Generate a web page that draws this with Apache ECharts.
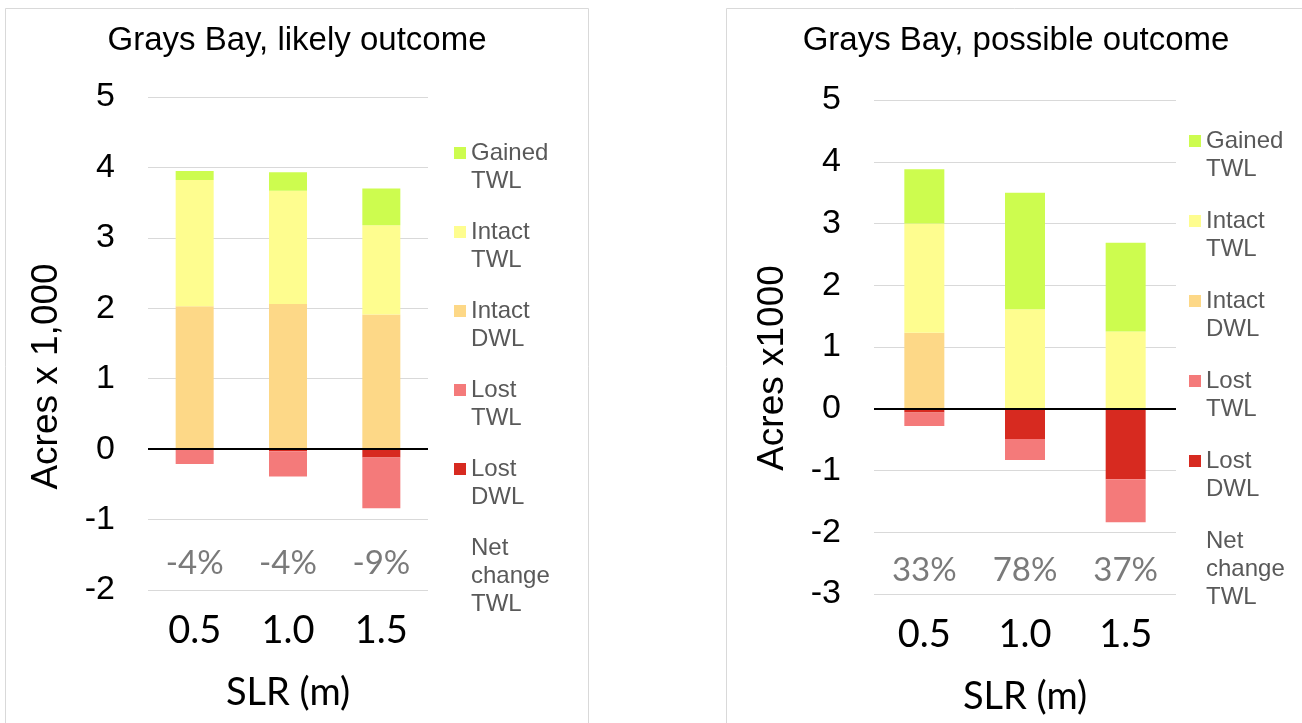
<!DOCTYPE html>
<html>
<head>
<meta charset="utf-8">
<script src="https://cdn.jsdelivr.net/npm/echarts@6/dist/echarts.min.js"></script>
<style>
html,body{margin:0;padding:0;background:#ffffff;}
#c{width:1302px;height:723px;}
</style>
</head>
<body>
<div id="c"></div>
<script>
// ---------- data ----------
const categories = ['0.5', '1.0', '1.5'];
const legendNames = ['Gained TWL', 'Intact TWL', 'Intact DWL', 'Lost TWL', 'Lost DWL', 'Net change TWL'];

// Grays Bay, likely outcome (acres x 1,000)
const likelyIntactDWL = [2.03, 2.06, 1.91];
const likelyIntactTWL = [1.79, 1.61, 1.27];
const likelyGainedTWL = [0.13, 0.26, 0.52];
const likelyLostDWL   = [0.00, -0.03, -0.12];
const likelyLostTWL   = [-0.21, -0.36, -0.72];
const likelyNetChange = [-4, -4, -9];
const likelyTicks = [-2, -1, 0, 1, 2, 3, 4, 5];

// Grays Bay, possible outcome (acres x 1000)
const possibleIntactDWL = [1.23, 0.00, 0.00];
const possibleIntactTWL = [1.77, 1.61, 1.25];
const possibleGainedTWL = [0.88, 1.89, 1.44];
const possibleLostDWL   = [-0.06, -0.49, -1.14];
const possibleLostTWL   = [-0.22, -0.34, -0.70];
const possibleNetChange = [33, 78, 37];
const possibleTicks = [-3, -2, -1, 0, 1, 2, 3, 4, 5];

// ---------- styles ----------
const COL = {
  'Gained TWL': '#cdfc4f',
  'Intact TWL': '#fefd8f',
  'Intact DWL': '#fdd887',
  'Lost TWL':   '#f47a7a',
  'Lost DWL':   '#d72a20'
};
const ARIAL = '"Liberation Sans", Arial, sans-serif';
const CALI = 'Lato, "Open Sans", sans-serif';

function bars(idx, d, barWidth) {
  const mk = (name, data, extra) => Object.assign({
    type: 'bar', name: name, data: data, stack: 'stack' + idx,
    xAxisIndex: idx, yAxisIndex: idx, barWidth: barWidth,
    itemStyle: { color: COL[name] },
    emphasis: { disabled: true }
  }, extra || {});
  return [
    mk('Intact DWL', d.intactDWL, {
      markLine: {
        silent: true, symbol: 'none', animation: false,
        label: { show: false },
        lineStyle: { color: '#000000', width: 2, type: 'solid' },
        data: [{ yAxis: 0 }]
      }
    }),
    mk('Intact TWL', d.intactTWL),
    mk('Gained TWL', d.gainedTWL),
    mk('Lost DWL', d.lostDWL),
    mk('Lost TWL', d.lostTWL)
  ];
}

function netSeries(idx, net, yPos) {
  return {
    type: 'scatter', name: 'Net change TWL',
    xAxisIndex: idx, yAxisIndex: idx,
    symbolSize: 1, itemStyle: { color: 'rgba(0,0,0,0)' },
    data: net.map((v, i) => [categories[i], yPos]),
    label: {
      show: true, position: 'inside',
      formatter: p => net[p.dataIndex] + '%',
      fontFamily: CALI, fontSize: 33, color: '#595959'
    },
    emphasis: { disabled: true }
  };
}

function yAx(idx, ticks, name, pad) {
  return {
    type: 'value', gridIndex: idx,
    min: ticks[0], max: ticks[ticks.length - 1], interval: 1,
    name: name, nameLocation: 'middle', nameGap: 83,
    nameTextStyle: { fontFamily: ARIAL, fontSize: 37, color: '#000', padding: [0, pad, 0, 0] },
    axisLine: { show: false }, axisTick: { show: false },
    axisLabel: { fontFamily: ARIAL, fontSize: 34, color: '#000', margin: 33 },
    splitLine: { lineStyle: { color: '#d9d9d9', width: 1 } }
  };
}

function xAx(idx) {
  return {
    type: 'category', gridIndex: idx, data: categories,
    name: 'SLR (m)', nameLocation: 'middle', nameGap: 84,
    nameTextStyle: { fontFamily: CALI, fontSize: 38, color: '#000' },
    axisLine: { show: false }, axisTick: { show: false },
    axisLabel: { fontFamily: CALI, fontSize: 38, color: '#000', margin: 22 }
  };
}

function legend(left, top, gap) {
  return {
    orient: 'vertical', left: left, top: top, padding: 0,
    itemGap: gap, itemWidth: 12, itemHeight: 12,
    selectedMode: false,
    data: legendNames.map(n => n === 'Net change TWL'
      ? { name: n, icon: 'none' }
      : { name: n, icon: 'rect' }),
    // leading blank line puts the first word level with the colour square
    formatter: n => '\n' + n.split(' ').join('\n'),
    textStyle: {
      fontFamily: ARIAL, fontSize: 24, lineHeight: 28, color: '#595959'
    }
  };
}

const chart = echarts.init(document.getElementById('c'), null, { renderer: 'canvas' });
chart.setOption({
  animation: false,
  backgroundColor: '#ffffff',
  graphic: [
    { type: 'rect', silent: true, z: -10, shape: { x: 5.5, y: 8.5, width: 583, height: 740 },
      style: { fill: '#ffffff', stroke: '#d9d9d9', lineWidth: 1 } },
    { type: 'rect', silent: true, z: -10, shape: { x: 726.5, y: 8.5, width: 600, height: 740 },
      style: { fill: '#ffffff', stroke: '#d9d9d9', lineWidth: 1 } }
  ],
  title: [
    { text: 'Grays Bay, likely outcome', left: 297, top: 24, textAlign: 'center', padding: 0,
      textStyle: { fontFamily: ARIAL, fontSize: 33, fontWeight: 'normal', color: '#000' } },
    { text: 'Grays Bay, possible outcome', left: 1016, top: 24, textAlign: 'center', padding: 0,
      textStyle: { fontFamily: ARIAL, fontSize: 33, fontWeight: 'normal', color: '#000' } }
  ],
  legend: [legend(454, 111, -5), legend(1189, 99, -4)],
  grid: [
    { left: 148, top: 97, width: 280, height: 493, containLabel: false },
    { left: 874, top: 100, width: 302, height: 494, containLabel: false }
  ],
  xAxis: [xAx(0), xAx(1)],
  yAxis: [yAx(0, likelyTicks, 'Acres x 1,000', 66), yAx(1, possibleTicks, 'Acres x1000', 42)],
  series: [].concat(
    bars(0, { intactDWL: likelyIntactDWL, intactTWL: likelyIntactTWL, gainedTWL: likelyGainedTWL,
              lostDWL: likelyLostDWL, lostTWL: likelyLostTWL }, 38),
    [netSeries(0, likelyNetChange, -1.62)],
    bars(1, { intactDWL: possibleIntactDWL, intactTWL: possibleIntactTWL, gainedTWL: possibleGainedTWL,
              lostDWL: possibleLostDWL, lostTWL: possibleLostTWL }, 40),
    [netSeries(1, possibleNetChange, -2.62)]
  )
});
</script>
</body>
</html>
